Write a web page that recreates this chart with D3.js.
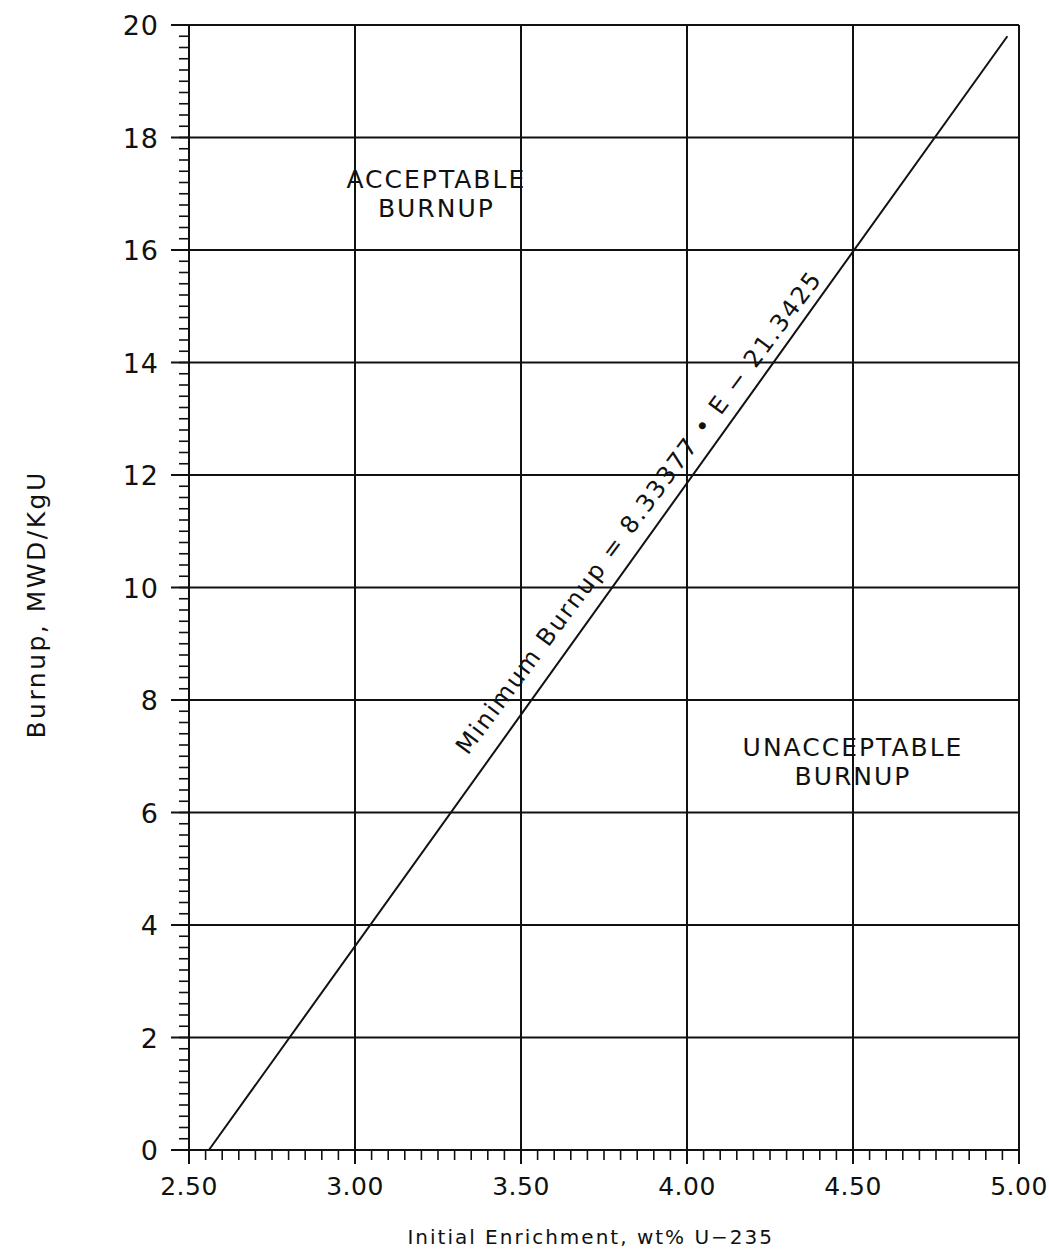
<!DOCTYPE html>
<html>
<head>
<meta charset="utf-8">
<script src="https://cdn.jsdelivr.net/npm/d3@7"></script>
<style>
  body { margin: 0; background: #fff; }
  text { font-family: "DejaVu Sans", sans-serif; fill: #111; }
</style>
</head>
<body>
<svg id="chart" width="1049" height="1256"></svg>
<script>
// axis ranges and ticks
var xTicks = [2.50, 3.00, 3.50, 4.00, 4.50, 5.00];
var yTicks = [0, 2, 4, 6, 8, 10, 12, 14, 16, 18, 20];

// minimum burnup line, end points
var lineE = [2.56, 4.965];
var lineB = [0, 19.8];

var eqLabel = "Minimum  Burnup  =  8.33377  \u2022  E  \u2212  21.3425";

var svg = d3.select("#chart");
var plotL = 189, plotR = 1019, plotT = 25, plotB = 1150;

var x = d3.scaleLinear().domain([2.5, 5.0]).range([plotL, plotR]);
var y = d3.scaleLinear().domain([0, 20]).range([plotB, plotT]);

var g = svg.append("g");

// minor ticks (x every 0.05, y every 0.2)
var xMinor = d3.range(0, 51).map(function(i) { return 2.5 + i * 0.05; });
var yMinor = d3.range(0, 101).map(function(i) { return i * 0.2; });

g.selectAll(".xminor").data(xMinor).enter().append("line")
  .attr("x1", function(d) { return x(d); }).attr("x2", function(d) { return x(d); })
  .attr("y1", plotB).attr("y2", plotB + 10)
  .attr("stroke", "#111").attr("stroke-width", 1.6);

g.selectAll(".yminor").data(yMinor).enter().append("line")
  .attr("x1", plotL - 10).attr("x2", plotL)
  .attr("y1", function(d) { return y(d); }).attr("y2", function(d) { return y(d); })
  .attr("stroke", "#111").attr("stroke-width", 1.6);

// grid lines (major)
g.selectAll(".vgrid").data(xTicks).enter().append("line")
  .attr("x1", function(d) { return x(d); }).attr("x2", function(d) { return x(d); })
  .attr("y1", plotT).attr("y2", plotB + 14)
  .attr("stroke", "#111").attr("stroke-width", 2);

g.selectAll(".hgrid").data(yTicks).enter().append("line")
  .attr("x1", plotL - 18).attr("x2", plotR)
  .attr("y1", function(d) { return y(d); }).attr("y2", function(d) { return y(d); })
  .attr("stroke", "#111").attr("stroke-width", 2);

// tick labels
g.selectAll(".xlab").data(xTicks).enter().append("text")
  .attr("x", function(d) { return x(d); })
  .attr("y", plotB + 45)
  .attr("text-anchor", "middle")
  .attr("font-size", "25px")
  .attr("letter-spacing", "0.5px")
  .text(function(d) { return d3.format(".2f")(d); });

g.selectAll(".ylab").data(yTicks).enter().append("text")
  .attr("x", plotL - 30)
  .attr("y", function(d) { return y(d) + 10; })
  .attr("text-anchor", "end")
  .attr("font-size", "27px")
  .attr("letter-spacing", "1px")
  .text(function(d) { return d; });

// axis titles
svg.append("text")
  .attr("x", x(3.71)).attr("y", 1244)
  .attr("text-anchor", "middle")
  .attr("font-size", "20px")
  .attr("letter-spacing", "2px")
  .text("Initial Enrichment, wt% U\u2212235");

svg.append("text")
  .attr("transform", "translate(45," + y(9.7) + ") rotate(-90)")
  .attr("text-anchor", "middle")
  .attr("font-size", "25px")
  .attr("letter-spacing", "2.5px")
  .text("Burnup,  MWD/KgU");

// minimum burnup line
var pts = lineE.map(function(e, i) { return [e, lineB[i]]; });
g.append("path")
  .datum(pts)
  .attr("d", d3.line().x(function(d) { return x(d[0]); }).y(function(d) { return y(d[1]); }))
  .attr("fill", "none").attr("stroke", "#111").attr("stroke-width", 2);

// equation label along the line
var ang = Math.atan2(y(lineB[1]) - y(lineB[0]), x(lineE[1]) - x(lineE[0])) * 180 / Math.PI;
svg.append("text")
  .attr("transform", "translate(" + x(3.875) + "," + y(11.25) + ") rotate(" + (ang + 1) + ")")
  .attr("text-anchor", "middle")
  .attr("font-size", "24px")
  .attr("letter-spacing", "2px")
  .text(eqLabel);

// region labels
function region(cx, cy, lines) {
  var t = svg.append("text").attr("text-anchor", "middle")
    .attr("font-size", "25px").attr("letter-spacing", "2px");
  lines.forEach(function(s, i) {
    t.append("tspan").attr("x", cx).attr("y", cy + i * 29).text(s);
  });
}
region(x(3.245), y(17.1), ["ACCEPTABLE", "BURNUP"]);
region(x(4.5), y(7.0), ["UNACCEPTABLE", "BURNUP"]);
</script>
</body>
</html>
